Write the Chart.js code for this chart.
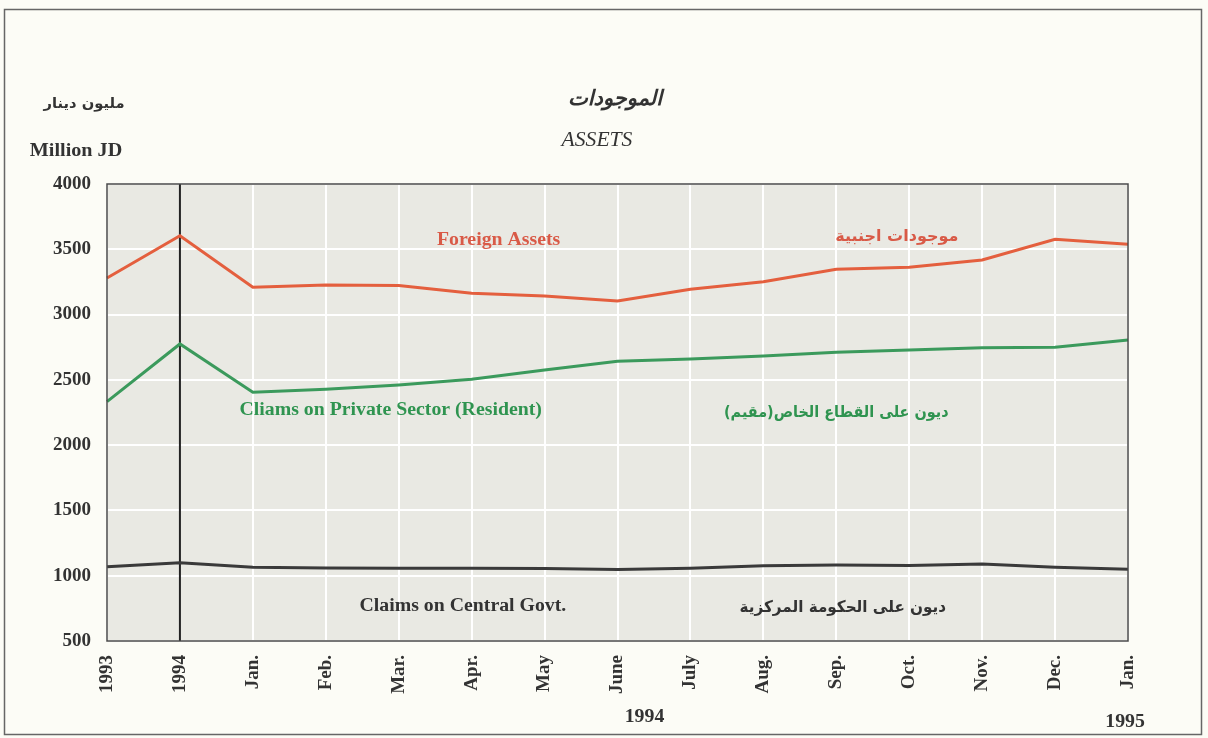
<!DOCTYPE html>
<html>
<head>
<meta charset="utf-8">
<script src="https://cdn.jsdelivr.net/npm/chart.js@4"></script>
<style>
  html, body { margin: 0; padding: 0; background: #fcfcf6; }
  #assets-chart { display: block; }
</style>
</head>
<body>
<canvas id="assets-chart" width="1208" height="738"></canvas>
<script>
// categories along the bottom axis
var months = ["1993", "1994", "Jan.", "Feb.", "Mar.", "Apr.", "May", "June",
              "July", "Aug.", "Sep.", "Oct.", "Nov.", "Dec.", "Jan."]

// million JD
var foreignAssets = [3280, 3604, 3209, 3227, 3222, 3163, 3142, 3104, 3194, 3252, 3347, 3362, 3418, 3577, 3538]
var privateSector = [2333, 2775, 2405, 2428, 2461, 2505, 2576, 2642, 2660, 2683, 2711, 2729, 2745, 2750, 2806]
var centralGovt   = [1069, 1100, 1064, 1059, 1057, 1058, 1055, 1048, 1057, 1077, 1082, 1078, 1090, 1064, 1049]

var yMin = 500
var yMax = 4000
var yStep = 500

// category that gets the dark divider line
var dividerIndex = 1

var redColor = "#e45f3e"
var greenColor = "#3b9a5c"
var blackColor = "#3a3a3a"

// in-plot series captions: [text, category index, value, colour, arabic?, x-stretch]
var captions = [
    ["Foreign Assets", 5.37, 3571, "#d95a47", false, 1.1],
    ["موجودات اجنبية", 10.83, 3594, "#d95a47", true, 1],
    ["Cliams on Private Sector (Resident)", 3.89, 2269, "#2f9450", false, 1.1],
    ["ديون على القطاع الخاص(مقيم)", 10.0, 2246, "#2f9450", true, 0.9],
    ["Claims on Central Govt.", 4.88, 768, "#333333", false, 1.1],
    ["ديون على الحكومة المركزية", 10.09, 753, "#333333", true, 0.95]
]

function drawText(ctx, txt, x, y, font, color, sx) {
    ctx.save()
    ctx.font = font
    ctx.fillStyle = color
    ctx.textAlign = "center"
    ctx.textBaseline = "middle"
    ctx.translate(x, y)
    ctx.scale(sx || 1, 1)
    ctx.fillText(txt, 0, 0)
    ctx.restore()
}

const pagePlugin = {
    id: "page",
    beforeDraw(chart) {
        var ctx = chart.ctx
        var a = chart.chartArea
        ctx.save()
        ctx.fillStyle = "#fcfcf6"
        ctx.fillRect(0, 0, chart.width, chart.height)
        ctx.fillStyle = "#e9e9e3"
        ctx.fillRect(a.left, a.top, a.right - a.left, a.bottom - a.top)
        ctx.restore()
    },
    beforeDatasetsDraw(chart) {
        // dark vertical divider at 1994, over the white grid
        var ctx = chart.ctx
        var a = chart.chartArea
        var x = chart.scales.x.getPixelForValue(dividerIndex)
        ctx.save()
        ctx.strokeStyle = "#222"
        ctx.lineWidth = 2
        ctx.beginPath()
        ctx.moveTo(x, a.top)
        ctx.lineTo(x, a.bottom)
        ctx.stroke()
        ctx.restore()
    },
    afterDraw(chart) {
        var ctx = chart.ctx
        var a = chart.chartArea
        var xs = chart.scales.x
        var ys = chart.scales.y

        // plot frame and page frame
        ctx.save()
        ctx.strokeStyle = "#4a4a4a"
        ctx.lineWidth = 1.5
        ctx.strokeRect(a.left, a.top, a.right - a.left, a.bottom - a.top)
        ctx.strokeStyle = "#666"
        ctx.lineWidth = 1.5
        ctx.strokeRect(4.5, 9.5, 1197, 725)
        ctx.restore()

        // titles
        drawText(ctx, "الموجودات", 615, 100, "italic bold 21px 'DejaVu Sans'", "#333", 1)
        drawText(ctx, "ASSETS", 597, 141, "italic 20px 'Liberation Serif'", "#333", 1.08)
        drawText(ctx, "مليون دينار", 84, 104, "bold 14px 'DejaVu Sans'", "#333", 1.05)
        drawText(ctx, "Million JD", 76, 151, "bold 18px 'Liberation Serif'", "#333", 1.12)

        // captions next to the lines
        captions.forEach(function (c) {
            var font = c[4] ? "bold 16px 'DejaVu Sans'" : "bold 18px 'Liberation Serif'"
            drawText(ctx, c[0], xs.getPixelForValue(c[1]), ys.getPixelForValue(c[2]), font, c[3], c[5])
        })

        // years under the month labels
        drawText(ctx, "1994", xs.getPixelForValue(7.37), a.bottom + 76, "bold 18px 'Liberation Serif'", "#333", 1.1)
        drawText(ctx, "1995", xs.getPixelForValue(13.96), a.bottom + 81, "bold 18px 'Liberation Serif'", "#333", 1.1)
    }
}

const assetsData = {
    labels: months,
    datasets: [
        {
            label: "Foreign Assets",
            borderColor: redColor,
            backgroundColor: redColor,
            borderWidth: 3,
            data: foreignAssets
        },
        {
            label: "Claims on Private Sector (Resident)",
            borderColor: greenColor,
            backgroundColor: greenColor,
            borderWidth: 3,
            data: privateSector
        },
        {
            label: "Claims on Central Govt.",
            borderColor: blackColor,
            backgroundColor: blackColor,
            borderWidth: 3,
            data: centralGovt
        }
    ]
}

const assetsConfig = {
    type: "line",
    data: assetsData,
    plugins: [pagePlugin],
    options: {
        responsive: false,
        animation: false,
        layout: {
            padding: { left: 0, top: 184, right: 80, bottom: 0 }
        },
        elements: {
            point: { radius: 0 },
            line: { tension: 0 }
        },
        plugins: {
            legend: { display: false },
            tooltip: { enabled: false }
        },
        scales: {
            x: {
                offset: false,
                afterFit: function (scale) { scale.height = 97 },
                grid: {
                    drawTicks: false,
                    color: "#ffffff",
                    lineWidth: 2
                },
                border: { display: false },
                ticks: {
                    autoSkip: false,
                    maxRotation: 90,
                    minRotation: 90,
                    padding: 14,
                    color: "#333",
                    font: { family: "'Liberation Serif'", size: 19, weight: "bold" }
                }
            },
            y: {
                min: yMin,
                max: yMax,
                afterFit: function (scale) { scale.width = 107 },
                grid: {
                    drawTicks: false,
                    color: "#ffffff",
                    lineWidth: 2
                },
                border: { display: false },
                ticks: {
                    stepSize: yStep,
                    padding: 16,
                    color: "#333",
                    font: { family: "'Liberation Serif'", size: 19, weight: "bold" },
                    callback: function (value) { return String(value) }
                }
            }
        }
    }
}

var assetsChart = new Chart(
    document.getElementById("assets-chart"),
    assetsConfig
)
</script>
</body>
</html>
